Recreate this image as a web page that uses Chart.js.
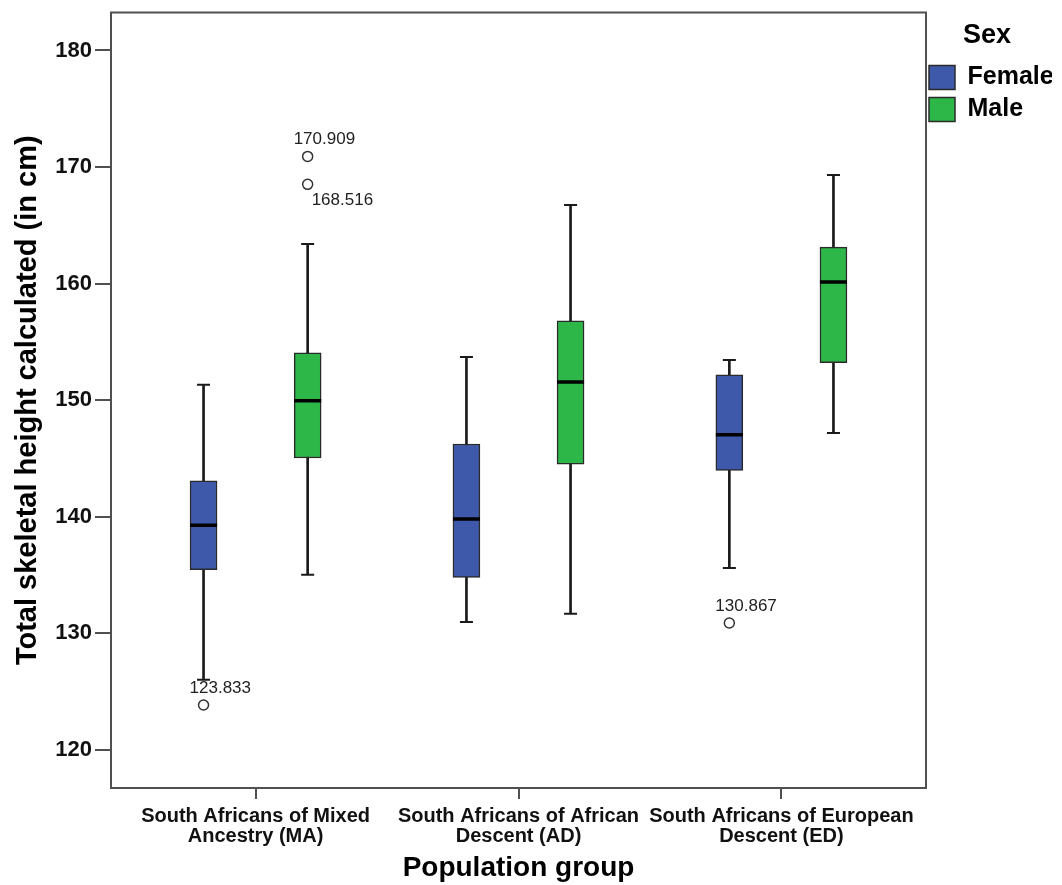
<!DOCTYPE html>
<html>
<head>
<meta charset="utf-8">
<script src="https://cdn.jsdelivr.net/npm/chart.js@4.4.1/dist/chart.umd.min.js"></script>
<style>
  html, body { margin: 0; padding: 0; background: #ffffff; }
  canvas { display: block; }
</style>
</head>
<body>
<canvas id="chart" width="1062" height="885"></canvas>
<script>
// ---------------- data ----------------
const categories = [
  ['South Africans of Mixed', 'Ancestry (MA)'],
  ['South Africans of African', 'Descent (AD)'],
  ['South Africans of European', 'Descent (ED)']
];
const seriesNames = ['Female', 'Male'];
const yTicks = [120, 130, 140, 150, 160, 170, 180];

const femaleLow    = [126.0, 130.95, 135.6];
const femaleQ1     = [135.44, 134.78, 143.96];
const femaleMedian = [139.25, 139.79, 147.03];
const femaleQ3     = [143.08, 146.23, 152.17];
const femaleHigh   = [151.32, 153.69, 153.44];

const maleLow    = [135.02, 131.67, 147.17];
const maleQ1     = [145.03, 144.51, 153.2];
const maleMedian = [149.94, 151.55, 160.13];
const maleQ3     = [154.06, 156.81, 163.13];
const maleHigh   = [163.4, 166.74, 169.31];

const outlierGroup  = [0, 2, 0, 0];
const outlierSeries = [0, 0, 1, 1];
const outlierValue  = [123.833, 130.867, 170.909, 168.516];

// ---------------- styles ----------------
const FONT = "'Liberation Sans', Arial, Helvetica, sans-serif";
const COLORS = ['#3E58AA', '#2DB748'];
const SERIES_OFFSET = [-0.198, 0.198];
const LINE = '#1a1a1a';
const FRAME = '#505050';

const stats = [
  { low: femaleLow, q1: femaleQ1, med: femaleMedian, q3: femaleQ3, high: femaleHigh },
  { low: maleLow,   q1: maleQ1,   med: maleMedian,   q3: maleQ3,   high: maleHigh }
];

const datasets = [];
stats.forEach((s, k) => {
  datasets.push({
    type: 'bar', label: seriesNames[k],
    data: categories.map((c, i) => ({ x: i + SERIES_OFFSET[k], y: [s.q1[i], s.q3[i]] })),
    backgroundColor: COLORS[k], borderColor: '#2a2a2a', borderWidth: 1.5,
    borderSkipped: false, barThickness: 27, grouped: false, order: 5
  });
});
stats.forEach((s, k) => {
  datasets.push({
    type: 'bar', label: 'whisker' + k,
    data: categories.map((c, i) => ({ x: i + SERIES_OFFSET[k], y: [s.low[i], s.high[i]] })),
    backgroundColor: LINE, borderWidth: 0, barThickness: 2, grouped: false, order: 10
  });
  datasets.push({
    type: 'scatter', label: 'caps' + k,
    data: categories.map((c, i) => ({ x: i + SERIES_OFFSET[k], y: s.low[i] }))
      .concat(categories.map((c, i) => ({ x: i + SERIES_OFFSET[k], y: s.high[i] }))),
    pointStyle: 'line', radius: 6.5, hoverRadius: 6.5, borderWidth: 2, borderColor: LINE, order: 4
  });
  datasets.push({
    type: 'scatter', label: 'median' + k,
    data: categories.map((c, i) => ({ x: i + SERIES_OFFSET[k], y: s.med[i] })),
    pointStyle: 'line', radius: 13.5, hoverRadius: 13.5, borderWidth: 3.5, borderColor: '#000', order: 1
  });
});
datasets.push({
  type: 'scatter', label: 'outliers',
  data: outlierValue.map((v, j) => ({ x: outlierGroup[j] + SERIES_OFFSET[outlierSeries[j]], y: v })),
  pointStyle: 'circle', radius: 5, hoverRadius: 5, borderWidth: 1.5,
  borderColor: '#333', backgroundColor: '#ffffff', order: 0
});

// ---------------- plugins ----------------
const framePlugin = {
  id: 'frame',
  afterLayout(chart) {
    // nudge legend slightly toward the plot, as in the reference
    if (chart.legend) { chart.legend.left -= 4; chart.legend.right -= 4; }
  },
  beforeDatasetsDraw(chart) {
    const { ctx, chartArea: a } = chart;
    ctx.save();
    ctx.strokeStyle = FRAME;
    ctx.lineWidth = 2;
    ctx.strokeRect(a.left, a.top, a.right - a.left, a.bottom - a.top);
    ctx.restore();
  }
};

const outlierLabelPlugin = {
  id: 'outlierLabels',
  afterDatasetsDraw(chart, args, opts) {
    const idx = chart.data.datasets.findIndex(d => d.label === 'outliers');
    const meta = chart.getDatasetMeta(idx);
    const ctx = chart.ctx;
    ctx.save();
    ctx.font = '17px ' + FONT;
    ctx.fillStyle = '#222';
    ctx.textBaseline = 'middle';
    ctx.textAlign = 'left';
    meta.data.forEach((pt, j) => {
      const below = opts.below.includes(j);
      const x = below ? pt.x + 4 : pt.x - 14;
      const y = below ? pt.y + 16 : pt.y - 17;
      ctx.fillText(outlierValue[j].toFixed(3), x, y);
    });
    ctx.restore();
  }
};

Chart.defaults.color = '#000';
Chart.defaults.font.family = FONT;

new Chart(document.getElementById('chart'), {
  type: 'bar',
  data: { datasets },
  options: {
    responsive: false,
    animation: false,
    devicePixelRatio: 1,
    layout: { autoPadding: false, padding: { top: 12.5, right: 6, bottom: 0, left: 0 } },
    scales: {
      x: {
        type: 'linear', min: -0.55, max: 2.55, offset: false,
        afterBuildTicks: (scale) => { scale.ticks = categories.map((c, i) => ({ value: i })); },
        afterFit: (scale) => { scale.height = 97; scale.paddingLeft = 0; scale.paddingRight = 0; },
        ticks: {
          autoSkip: false, maxRotation: 0, minRotation: 0, padding: 7,
          font: { size: 20, weight: 'bold', lineHeight: 1.0 }, color: '#111',
          callback: (v) => categories[Math.round(v)]
        },
        grid: { drawOnChartArea: false, drawTicks: true, tickLength: 11, color: FRAME, lineWidth: 2, offset: false },
        border: { display: false },
        title: { display: true, text: 'Population group', font: { size: 28, weight: 'bold', lineHeight: 1.2 }, color: '#000', padding: { top: 0, bottom: 0 } }
      },
      y: {
        type: 'linear', min: 116.71, max: 183.26,
        afterBuildTicks: (scale) => { scale.ticks = yTicks.map(v => ({ value: v })); },
        afterFit: (scale) => { scale.width = 111; scale.paddingTop = 0; scale.paddingBottom = 0; },
        ticks: { padding: 3, font: { size: 22, weight: 'bold' }, color: '#111', callback: (v) => String(v) },
        grid: { drawOnChartArea: false, drawTicks: true, tickLength: 16, color: FRAME, lineWidth: 2 },
        border: { display: false },
        title: { display: true, text: 'Total skeletal height calculated (in cm)', font: { size: 29, weight: 'bold', lineHeight: 1.2 }, color: '#000', padding: { top: 11, bottom: 0 } }
      }
    },
    plugins: {
      tooltip: { enabled: false },
      outlierLabels: { below: [3] },
      legend: {
        display: true, position: 'right', align: 'start', maxWidth: 130,
        title: { display: true, text: 'Sex', color: '#000', font: { size: 27, weight: 'bold' }, padding: { top: 10, bottom: 3 } },
        labels: {
          filter: (item) => item.datasetIndex < 2,
          boxWidth: 26, boxHeight: 24, padding: 7, color: '#000',
          font: { size: 25, weight: 'bold' }
        }
      }
    }
  },
  plugins: [framePlugin, outlierLabelPlugin]
});
</script>
</body>
</html>
